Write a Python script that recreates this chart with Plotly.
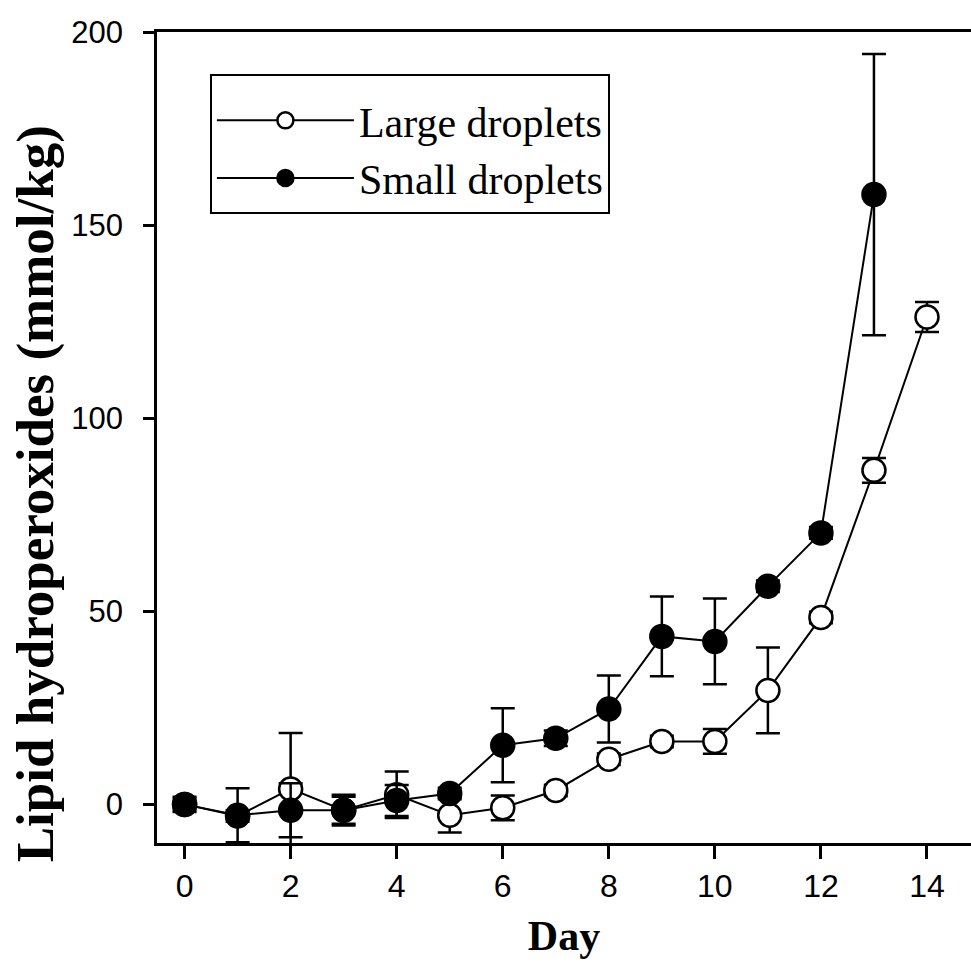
import plotly.graph_objects as go

days_large = [0, 1, 2, 3, 4, 5, 6, 7, 8, 9, 10, 11, 12, 13, 14]
large_mean = [0, -3, 4, -1.5, 2.5, -2.8, -0.9, 3.6, 11.7, 16.3, 16.3, 29.5, 48.4, 86.5, 126.2]
large_err = [1.5, 1.5, 14.5, 4, 6, 4.5, 3.2, 1.5, 1.5, 1.5, 3.2, 11.1, 1.5, 3.2, 3.9]

days_small = [0, 1, 2, 3, 4, 5, 6, 7, 8, 9, 10, 11, 12, 13]
small_mean = [0, -2.8, -1.5, -1.5, 1, 2.8, 15.3, 17.1, 24.7, 43.5, 42.2, 56.5, 70.3, 157.9]
small_err = [2, 7, 7, 3.5, 4, 1.5, 9.6, 2, 8.7, 10.3, 11.1, 1.5, 1.5, 36.4]

x_ticks = [0, 2, 4, 6, 8, 10, 12, 14]
y_ticks = [0, 50, 100, 150, 200]

x_title = "Day"
y_title = "Lipid hydroperoxides (mmol/kg)"

serif = "Liberation Serif, Times New Roman, serif"
sans = "Liberation Sans, Arial, sans-serif"

fig = go.Figure()
fig.add_trace(go.Scatter(
    x=days_large, y=large_mean, mode="lines+markers", name="Large droplets",
    line=dict(color="black", width=2),
    marker=dict(symbol="circle", size=23, color="white", line=dict(color="black", width=2.5)),
    error_y=dict(type="data", array=large_err, visible=True, color="black", thickness=2.5, width=12),
))
fig.add_trace(go.Scatter(
    x=days_small, y=small_mean, mode="lines+markers", name="Small droplets",
    line=dict(color="black", width=2),
    marker=dict(symbol="circle", size=23, color="black", line=dict(color="black", width=2.5)),
    error_y=dict(type="data", array=small_err, visible=True, color="black", thickness=2.5, width=12),
))

fig.add_annotation(
    text="<b>" + y_title + "</b>", textangle=-90,
    xref="paper", yref="paper", x=0, y=0.43, xanchor="center", yanchor="middle",
    xshift=-122, showarrow=False,
    font=dict(family=serif, size=53, color="black"),
)

fig.update_layout(
    width=971, height=963,
    margin=dict(l=157, r=0, t=32, b=120),
    paper_bgcolor="white", plot_bgcolor="white",
    showlegend=True,
    legend=dict(
        x=0.065, y=0.948, xanchor="left", yanchor="top",
        bgcolor="white", bordercolor="black", borderwidth=2,
        font=dict(family=serif, size=42, color="black"),
        itemwidth=137,
        title=dict(text=" ", font=dict(size=8)),
    ),
    xaxis=dict(
        range=[-0.52, 14.83], tickmode="array", tickvals=x_ticks,
        ticks="outside", ticklen=13, tickwidth=2.5, tickcolor="black",
        showline=True, linecolor="black", linewidth=2.5, mirror=True,
        showgrid=False, zeroline=False,
        tickfont=dict(family=sans, size=32, color="black"),
        title=dict(text="<b>" + x_title + "</b>", font=dict(family=serif, size=42, color="black"), standoff=18),
    ),
    yaxis=dict(
        range=[-10, 200], tickmode="array", tickvals=y_ticks,
        ticks="outside", ticklen=11, tickwidth=2.5, tickcolor="black",
        showline=True, linecolor="black", linewidth=2.5, mirror=False,
        showgrid=False, zeroline=False, ticklabelstandoff=14,
        tickfont=dict(family=sans, size=31, color="black"),
    ),
)

fig.write_html("out.html")
